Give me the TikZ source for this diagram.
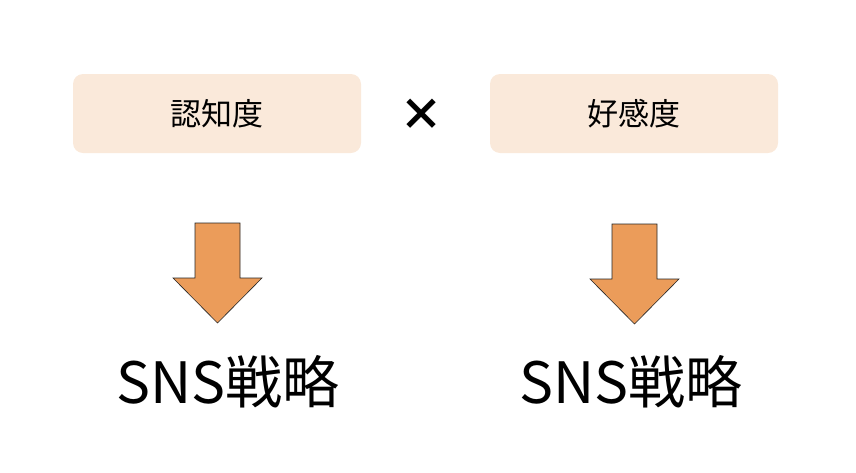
\documentclass[tikz,border=0pt]{standalone}
\usepackage{fontspec}
\setmainfont{Noto Sans CJK JP}
\usepackage{xcolor}
\definecolor{boxpeach}{RGB}{250,233,218}
\definecolor{arrorange}{RGB}{235,156,90}
\usetikzlibrary{positioning}

\begin{document}
\begin{tikzpicture}[x=1pt, y=-1pt,
	box/.style={rectangle, fill=boxpeach, rounded corners=10pt, minimum width=288pt,
	            minimum height=79pt, font=\fontsize{31}{31}\selectfont, inner sep=0pt},
	times/.style={font=\fontsize{44}{44}\selectfont\bfseries, inner sep=0pt},
	big/.style={font=\fontsize{57}{57}\selectfont, inner sep=0pt},
	blockarr/.style={draw=black!85, line width=0.6pt, fill=arrorange, line join=miter}
	]
\useasboundingbox (0,0) rectangle (856,472);
\node[box] (nin) at (217,113.5) {認知度};
\node[box] (kou) at (634,113.5) {好感度};
\node[times] (x) at (421,115) {×};

% block arrows
\coordinate (a1) at (217.5,223);
\coordinate (a2) at (634.5,224);
\foreach \c in {a1,a2}
	\draw[blockarr] (\c) ++(-22.5,0) -- ++(45,0) -- ++(0,55) -- ++(22,0)
		-- ++(-44.5,45) -- ++(-44.5,-45) -- ++(22,0) -- cycle;

\node[big] (s1) at (228,382) {SNS戦略};
\node[big] (s2) at (631,382) {SNS戦略};
\end{tikzpicture}
\end{document}
